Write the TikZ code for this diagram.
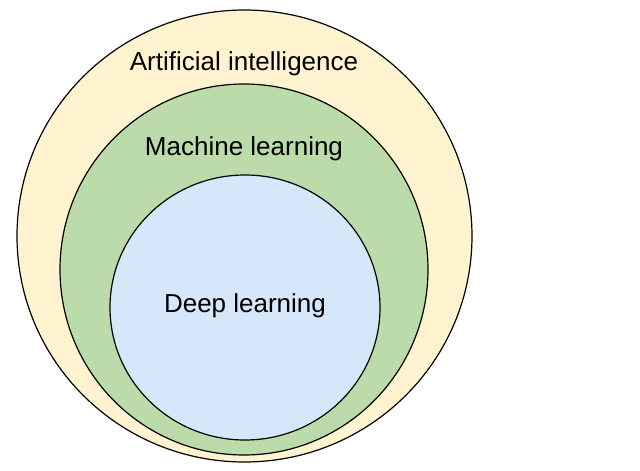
\documentclass[tikz,border=0pt]{standalone}
\usepackage{fontspec}
\setmainfont{Liberation Sans}
\usetikzlibrary{shapes.geometric}
\definecolor{aiyellow}{HTML}{FFF4CF}
\definecolor{mlgreen}{HTML}{BBDBAA}
\definecolor{dlblue}{HTML}{D5E7F9}
\begin{document}
\begin{tikzpicture}[x=1pt,y=-1pt,
  set/.style={ellipse, draw=black, line width=1.2pt, inner sep=0pt, outer sep=0pt},
  lbl/.style={anchor=base, inner sep=0pt, font=\fontsize{26}{30}\selectfont}]
\fill[white] (0,0) rectangle (640,471);
\useasboundingbox (0,0) rectangle (640,471);
\node[set, fill=aiyellow, minimum width=455pt, minimum height=452pt] (ai) at (244.5,236) {};
\node[set, fill=mlgreen, minimum width=368pt, minimum height=371pt] (ml) at (244,269.5) {};
\node[set, fill=dlblue, minimum width=270pt, minimum height=265pt] (dl) at (245,307.5) {};
\node[lbl] (tai) at (244,70) {Artificial intelligence};
\node[lbl] (tml) at (244,155) {Machine learning};
\node[lbl] (tdl) at (245,312) {Deep learning};
\end{tikzpicture}
\end{document}
